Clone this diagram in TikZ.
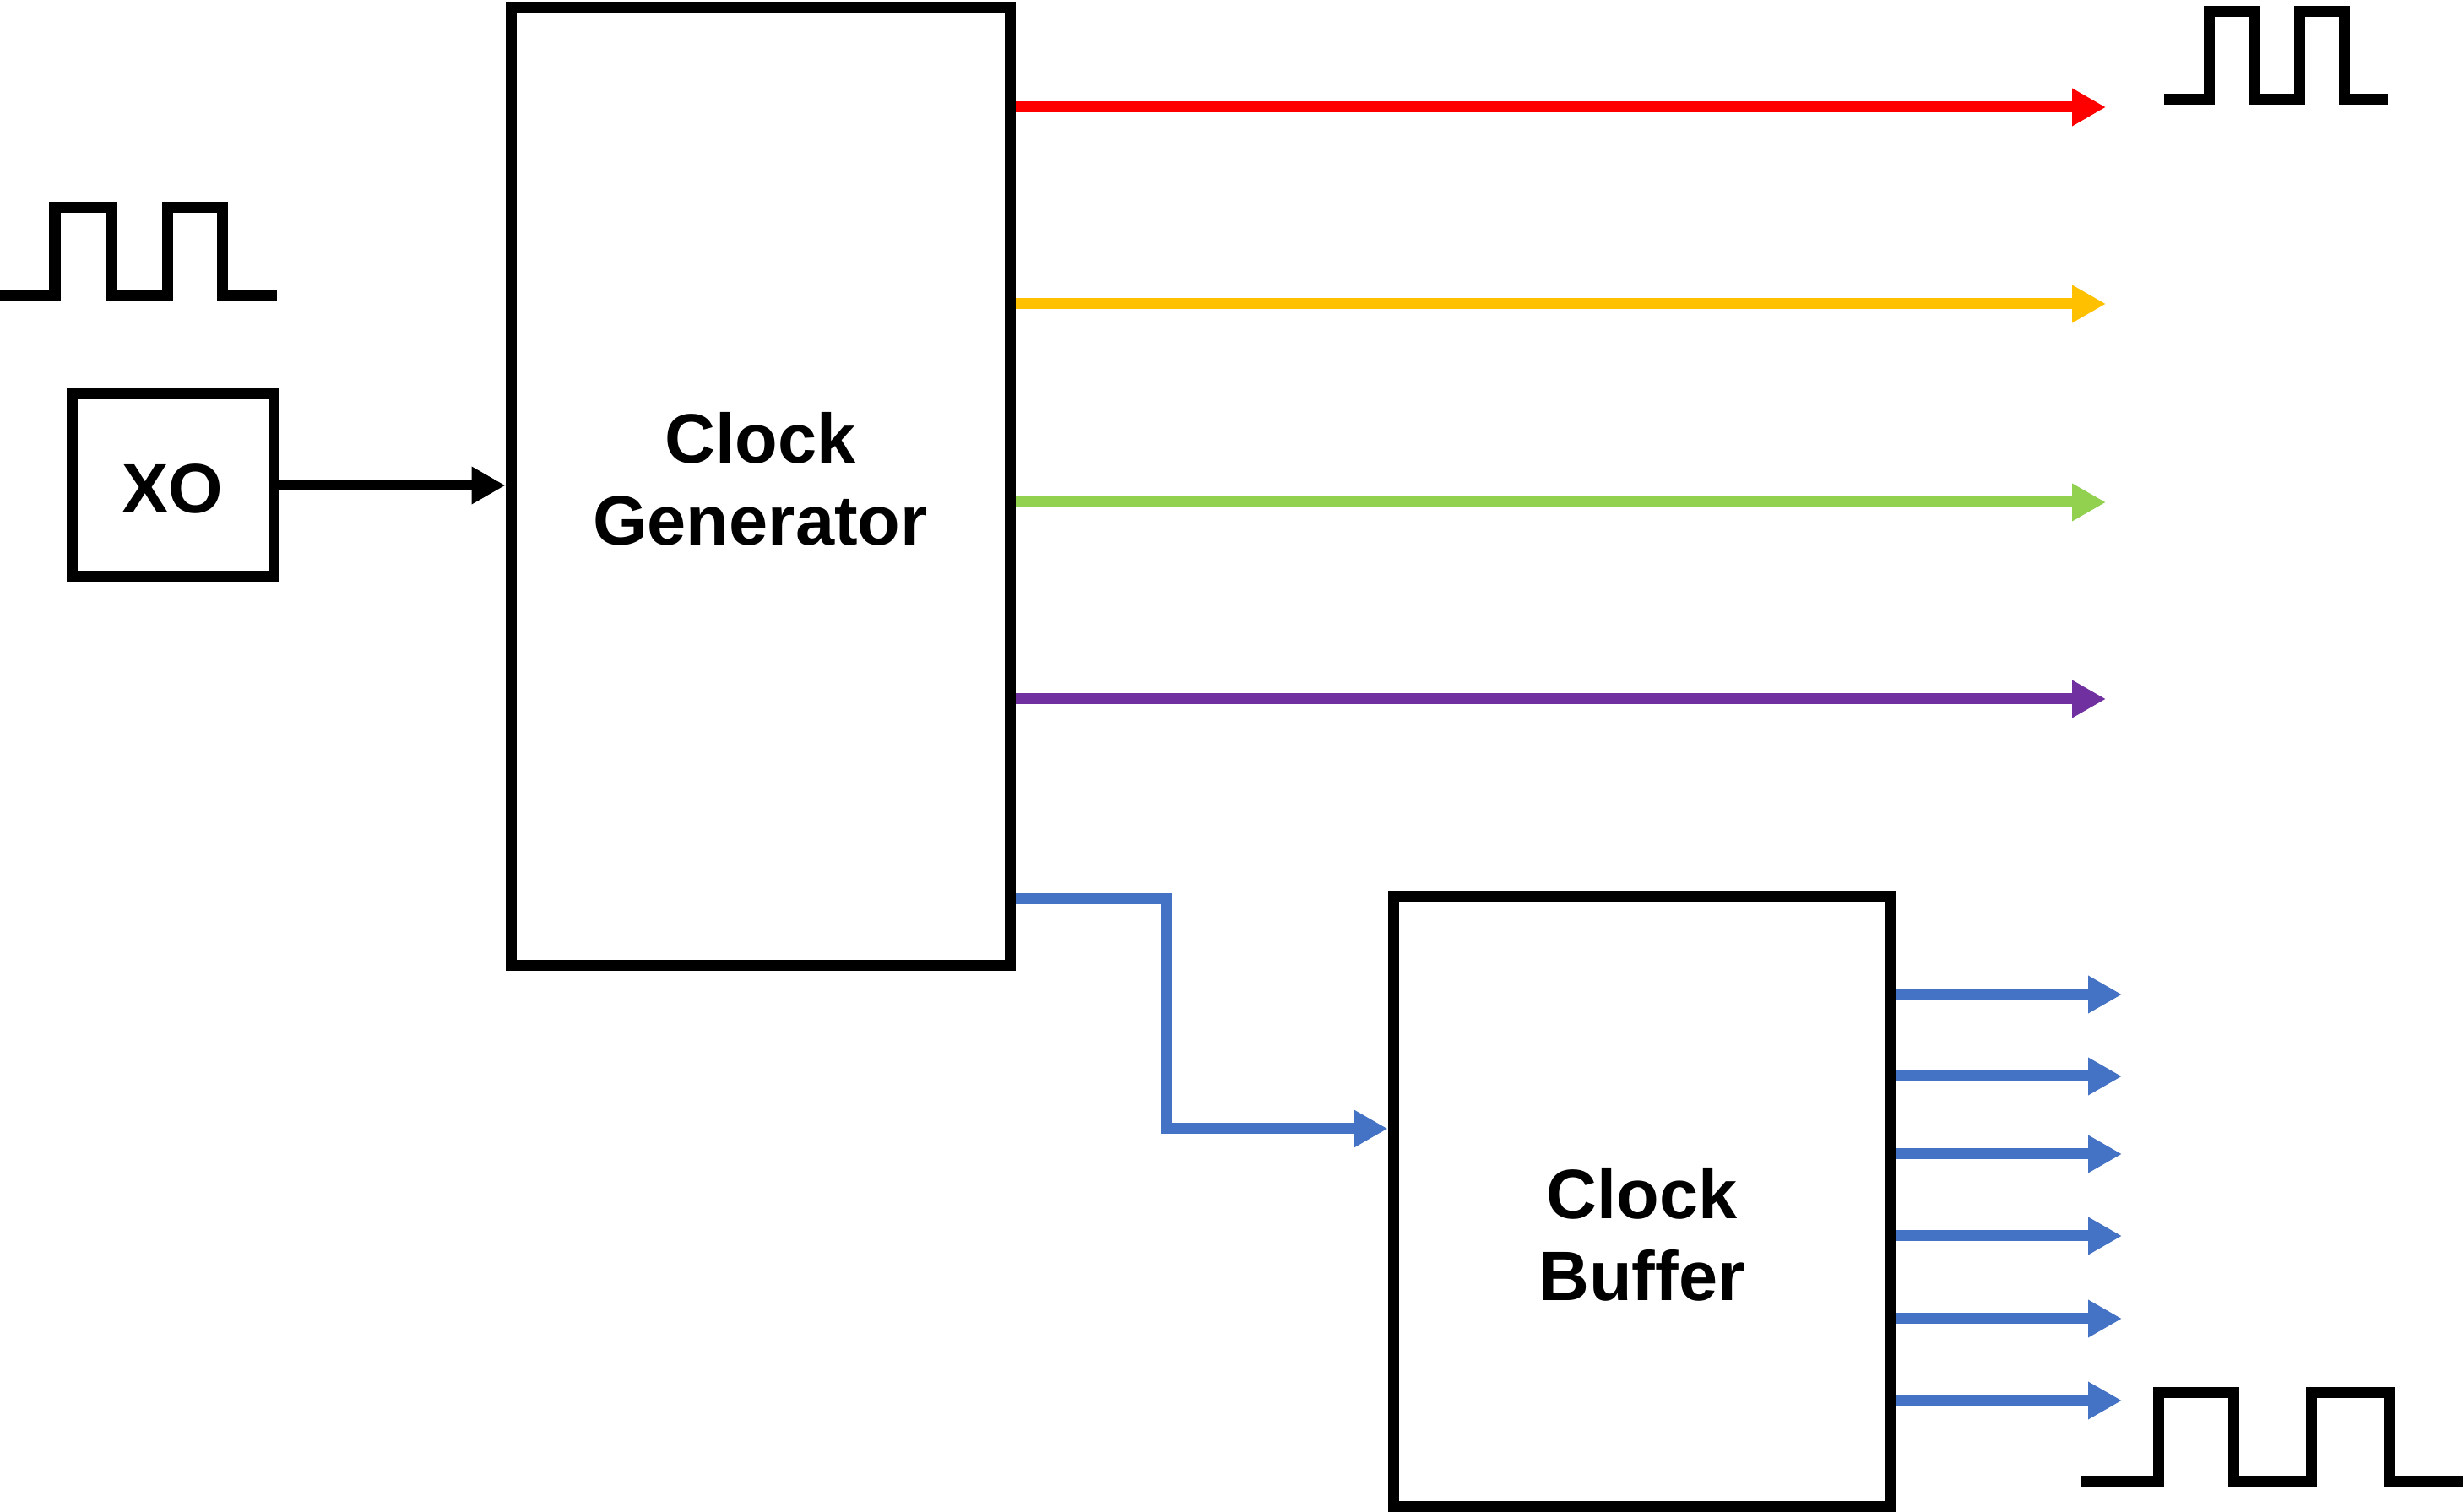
\documentclass[tikz,border=0pt]{standalone}
\usepackage{fontspec}
\setmainfont{Liberation Sans}
\usetikzlibrary{arrows.meta}

\definecolor{cred}{HTML}{FF0000}
\definecolor{cyellow}{HTML}{FFC000}
\definecolor{cgreen}{HTML}{92D050}
\definecolor{cpurple}{HTML}{7030A0}
\definecolor{cblue}{HTML}{4472C4}

\begin{document}
\begin{tikzpicture}[
    block/.style={draw, line width=0.13cm, inner sep=0pt},
    caption/.style={align=center, inner sep=0pt,
      font=\fontsize{23.6}{27.6}\selectfont\bfseries},
    wire/.style={line width=0.13cm, -{Triangle[length=0.4cm, width=0.42cm]}},
    wave/.style={line width=0.13cm}
  ]
    \useasboundingbox (0,0) rectangle (29.17,-17.91);
    \node (XO) at (2.045,-5.75) [block, minimum width=2.39cm, minimum height=2.16cm] {};
    \node (generator) at (9.005,-5.765) [block, minimum width=5.91cm, minimum height=11.35cm] {};
    \node (buffer) at (19.445,-14.235) [block, minimum width=5.89cm, minimum height=7.23cm] {};
    \node (XOtext) at ([yshift=-0.04cm]XO.center) [caption] {XO};
    \node (generatortext) at ([yshift=0.09cm]generator.center) [caption] {Clock\\Generator};
    \node (buffertext) at ([yshift=-0.39cm]buffer.center) [caption] {Clock\\Buffer};

    \draw[wire] (XO.east) -- (XO.east -| generator.west);

    % outputs of the generator
    \coordinate (clkA) at (24.94,-1.27);
    \coordinate (clkB) at (24.94,-3.60);
    \coordinate (clkC) at (24.94,-5.95);
    \coordinate (clkD) at (24.94,-8.28);
    \draw[wire, cred] (generator.east |- clkA) -- (clkA);
    \draw[wire, cyellow] (generator.east |- clkB) -- (clkB);
    \draw[wire, cgreen] (generator.east |- clkC) -- (clkC);
    \draw[wire, cpurple] (generator.east |- clkD) -- (clkD);

    \coordinate (split) at (13.81,-10.65);
    \coordinate (turn) at (13.81,-13.37);
    \draw[wire, cblue] (generator.east |- split) -- (split) -- (turn) -- (turn -| buffer.west);

    % fan-out of the buffer
    \coordinate (fan1) at (25.13,-11.78);
    \coordinate (fan2) at (25.13,-12.75);
    \coordinate (fan3) at (25.13,-13.67);
    \coordinate (fan4) at (25.13,-14.64);
    \coordinate (fan5) at (25.13,-15.62);
    \coordinate (fan6) at (25.13,-16.59);
    \draw[wire, cblue] (buffer.east |- fan1) -- (fan1);
    \draw[wire, cblue] (buffer.east |- fan2) -- (fan2);
    \draw[wire, cblue] (buffer.east |- fan3) -- (fan3);
    \draw[wire, cblue] (buffer.east |- fan4) -- (fan4);
    \draw[wire, cblue] (buffer.east |- fan5) -- (fan5);
    \draw[wire, cblue] (buffer.east |- fan6) -- (fan6);

    % clock waveforms
    \draw[wave] (0,-3.50) -- (0.65,-3.50) -- (0.65,-2.46) -- (1.31,-2.46) -- (1.31,-3.50)
      -- (1.98,-3.50) -- (1.98,-2.46) -- (2.63,-2.46) -- (2.63,-3.50) -- (3.28,-3.50);
    \draw[wave] (25.63,-1.18) -- (26.16,-1.18) -- (26.16,-0.14) -- (26.69,-0.14) -- (26.69,-1.18)
      -- (27.23,-1.18) -- (27.23,-0.14) -- (27.76,-0.14) -- (27.76,-1.18) -- (28.28,-1.18);
    \draw[wave] (24.65,-17.55) -- (25.56,-17.55) -- (25.56,-16.50) -- (26.45,-16.50) -- (26.45,-17.55)
      -- (27.37,-17.55) -- (27.37,-16.50) -- (28.29,-16.50) -- (28.29,-17.55) -- (29.17,-17.55);
\end{tikzpicture}
\end{document}
